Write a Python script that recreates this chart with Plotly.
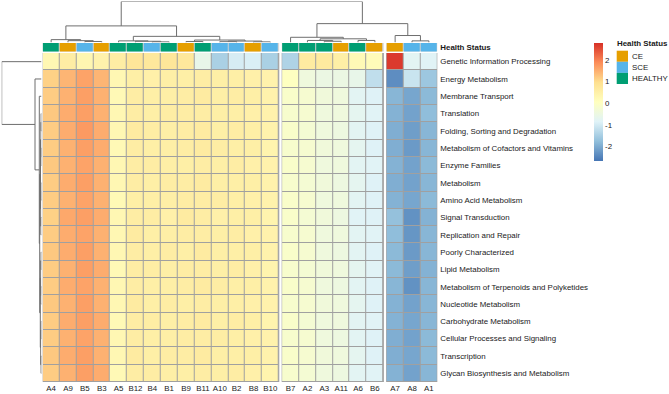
import plotly.graph_objects as go

W, H = 669, 394

rows = ["Genetic Information Processing", "Energy Metabolism", "Membrane Transport", "Translation",
        "Folding, Sorting and Degradation", "Metabolism of Cofactors and Vitamins", "Enzyme Families",
        "Metabolism", "Amino Acid Metabolism", "Signal Transduction", "Replication and Repair",
        "Poorly Characterized", "Lipid Metabolism", "Metabolism of Terpenoids and Polyketides",
        "Nucleotide Metabolism", "Carbohydrate Metabolism", "Cellular Processes and Signaling",
        "Transcription", "Glycan Biosynthesis and Metabolism"]

cols = ["A4", "A9", "B5", "B3", "A5", "B12", "B4", "B1", "B9", "B11", "A10", "B2", "B8", "B10",
        "B7", "A2", "A3", "A11", "A6", "B6",
        "A7", "A8", "A1"]
col_groups = [14, 6, 3]

status = ["HEALTHY", "CE", "SCE", "CE", "HEALTHY", "HEALTHY", "SCE", "HEALTHY", "CE", "HEALTHY", "SCE", "SCE", "CE", "SCE",
          "HEALTHY", "HEALTHY", "HEALTHY", "CE", "HEALTHY", "CE",
          "CE", "SCE", "SCE"]
status_levels = ["CE", "SCE", "HEALTHY"]
status_colors = ["#E69F00", "#56B4E9", "#009E73"]

values = [
    [0.30, 0.60, 0.35, 0.45, 0.60, 0.80, 0.75, 0.80, 0.75, -0.60, -1.45, -0.95, -0.90, -1.45, -1.40, 0.65, 0.70, 0.55, 0.25, 0.20, 2.70, -0.75, -0.80],
    [1.15, 1.45, 1.65, 1.45, 0.30, 0.55, 0.50, 0.55, 0.55, 0.60, 0.55, 0.55, 0.50, 0.45, 0.05, -0.40, -0.50, -0.50, -0.60, -1.20, -2.35, -1.10, -1.60],
    [1.20, 1.50, 1.70, 1.50, 0.25, 0.60, 0.55, 0.55, 0.60, 0.65, 0.55, 0.60, 0.55, 0.45, -0.10, -0.20, -0.35, -0.40, -0.75, -0.85, -1.85, -2.05, -1.80],
    [1.25, 1.55, 1.70, 1.50, 0.30, 0.60, 0.55, 0.60, 0.60, 0.60, 0.55, 0.55, 0.50, 0.45, -0.15, -0.20, -0.40, -0.40, -0.70, -0.80, -1.90, -2.10, -1.75],
    [1.20, 1.55, 1.75, 1.55, 0.30, 0.65, 0.60, 0.55, 0.60, 0.65, 0.55, 0.60, 0.55, 0.45, -0.10, -0.25, -0.40, -0.45, -0.75, -0.85, -1.95, -2.15, -1.85],
    [1.20, 1.50, 1.70, 1.55, 0.25, 0.60, 0.55, 0.55, 0.60, 0.65, 0.60, 0.55, 0.55, 0.40, -0.15, -0.20, -0.35, -0.40, -0.70, -0.85, -1.95, -2.20, -1.85],
    [1.25, 1.50, 1.65, 1.50, 0.30, 0.60, 0.60, 0.55, 0.55, 0.60, 0.55, 0.60, 0.50, 0.45, -0.10, -0.20, -0.40, -0.40, -0.75, -0.80, -1.90, -2.10, -1.80],
    [1.20, 1.55, 1.70, 1.50, 0.30, 0.60, 0.55, 0.60, 0.60, 0.65, 0.55, 0.55, 0.55, 0.45, -0.15, -0.25, -0.35, -0.45, -0.70, -0.85, -1.95, -2.10, -1.85],
    [1.20, 1.50, 1.65, 1.50, 0.25, 0.55, 0.55, 0.55, 0.60, 0.60, 0.60, 0.55, 0.50, 0.45, -0.10, -0.20, -0.40, -0.40, -0.75, -0.85, -1.90, -2.05, -1.80],
    [1.15, 1.60, 1.70, 1.55, 0.30, 0.60, 0.60, 0.50, 0.65, 0.60, 0.50, 0.55, 0.55, 0.40, -0.10, -0.25, -0.35, -0.45, -0.80, -0.85, -1.70, -2.30, -1.90],
    [1.20, 1.55, 1.65, 1.50, 0.30, 0.65, 0.55, 0.55, 0.60, 0.60, 0.55, 0.60, 0.50, 0.45, -0.15, -0.20, -0.40, -0.40, -0.75, -0.80, -1.75, -2.25, -1.85],
    [1.25, 1.55, 1.70, 1.50, 0.30, 0.60, 0.55, 0.60, 0.55, 0.65, 0.55, 0.55, 0.55, 0.45, -0.10, -0.20, -0.40, -0.45, -0.75, -0.85, -1.80, -2.20, -1.85],
    [1.20, 1.50, 1.70, 1.55, 0.25, 0.60, 0.60, 0.55, 0.60, 0.60, 0.55, 0.60, 0.50, 0.40, -0.15, -0.25, -0.35, -0.40, -0.70, -0.80, -1.80, -2.15, -1.90],
    [1.20, 1.55, 1.65, 1.50, 0.30, 0.60, 0.55, 0.55, 0.60, 0.65, 0.60, 0.55, 0.55, 0.45, -0.10, -0.20, -0.40, -0.45, -0.75, -0.85, -1.85, -2.30, -1.85],
    [1.25, 1.50, 1.70, 1.50, 0.30, 0.65, 0.55, 0.60, 0.55, 0.60, 0.55, 0.55, 0.50, 0.45, -0.15, -0.20, -0.35, -0.40, -0.70, -0.85, -1.90, -2.10, -1.85],
    [1.20, 1.55, 1.70, 1.55, 0.25, 0.60, 0.60, 0.55, 0.60, 0.65, 0.55, 0.60, 0.55, 0.40, -0.10, -0.25, -0.40, -0.40, -0.75, -0.80, -1.90, -2.05, -1.85],
    [1.20, 1.50, 1.65, 1.50, 0.30, 0.60, 0.55, 0.55, 0.60, 0.60, 0.60, 0.55, 0.50, 0.45, -0.15, -0.20, -0.40, -0.45, -0.75, -0.85, -1.95, -2.10, -1.80],
    [1.25, 1.55, 1.70, 1.50, 0.30, 0.65, 0.55, 0.60, 0.60, 0.65, 0.55, 0.55, 0.55, 0.45, -0.10, -0.20, -0.35, -0.40, -0.70, -0.85, -1.95, -2.05, -1.80],
    [1.20, 1.50, 1.70, 1.55, 0.25, 0.60, 0.60, 0.55, 0.55, 0.60, 0.55, 0.60, 0.50, 0.40, -0.15, -0.25, -0.40, -0.45, -0.75, -0.80, -1.90, -2.10, -1.85],
]

scale_min, scale_max = -2.65, 2.8
colorbar_ticks = [-2, -1, 0, 1, 2]
palette = ["#4575B4", "#91BFDB", "#E0F3F8", "#FFFFBF", "#FEE090", "#FC8D59", "#D73027"]

# column clustering tree: (height, left, right)
col_tree = (100,
            (40.5,
             (7, "A4", (4.5, "A9", (2.5, "B5", "B3"))),
             (15, (4, "A5", (3, "B12", (1.5, "B4", "B1"))),
              (6, (2.5, "B9", "B11"), (3.5, (2, "A10", "B2"), (1.5, "B8", "B10"))))),
            (46,
             (12.7, "B7", (9, (5, "A2", (3, "A3", "A11")), (5, "A6", "B6"))),
             (17, "A7", (4, "A8", "A1"))))

# row clustering tree
row_tree = (100, "Genetic Information Processing",
            (16.3, "Energy Metabolism",
             (5.5, "Membrane Transport",
              (4.5,
               (2.5,
                (1.5, (1, "Translation", "Folding, Sorting and Degradation"),
                 (1, "Metabolism of Cofactors and Vitamins", "Enzyme Families")),
                (2, (1, "Metabolism", "Amino Acid Metabolism"),
                 (1.5, "Signal Transduction", "Replication and Repair"))),
               (3,
                (2, (1, "Poorly Characterized", "Lipid Metabolism"),
                 (1.5, "Metabolism of Terpenoids and Polyketides", "Nucleotide Metabolism")),
                (2, (1, "Carbohydrate Metabolism", "Cellular Processes and Signaling"),
                 (1, "Transcription", "Glycan Biosynthesis and Metabolism")))))))

# ---------- layout geometry (pixels) ----------
def px(x):
    return x / W

def py(y):
    return 1 - y / H

hm_left, hm_right = 42.7, 437.3
hm_top, hm_bottom = 53.0, 382.0
ann_top, ann_bottom = 43.0, 51.5
dendro_top = 1.5
rowd_left, rowd_right = 1.7, 41.5
gap_units = 0.2
border_col = "#a0a0a0"
font_family = "Liberation Sans, Arial, sans-serif"
text_col = "#1a1a1a"
fsize = 7.9

# column positions with gaps between groups
col_pos = []
offset = 0.0
start = 0
group_spans = []
for g in col_groups:
    span = []
    for i in range(g):
        col_pos.append(start + i + offset)
        span.append(start + i + offset)
    group_spans.append((span[0], span[-1], start, start + g))
    start += g
    offset += gap_units
x_range = [-0.5, col_pos[-1] + 0.5]
pos_of_col = dict(zip(cols, col_pos))
pos_of_row = {r: i for i, r in enumerate(rows)}

colorscale = [[i / (len(palette) - 1), c] for i, c in enumerate(palette)]

fig = go.Figure()

# heatmap blocks
for gi, (x0, x1, a, b) in enumerate(group_spans):
    z = [row[a:b] for row in values]
    fig.add_trace(go.Heatmap(
        z=z, x=col_pos[a:b], y=list(range(len(rows))),
        colorscale=colorscale, zmin=scale_min, zmax=scale_max,
        xgap=1, ygap=1, showscale=(gi == 0), hoverinfo="skip",
        xaxis="x", yaxis="y",
        colorbar=dict(x=px(594), xanchor="left", xpad=0, ypad=0,
                      y=py(42.7), yanchor="top", len=117.5, lenmode="pixels",
                      thickness=9, thicknessmode="pixels", outlinewidth=0,
                      tickvals=colorbar_ticks, ticktext=[str(t) for t in colorbar_ticks],
                      ticks="", tickfont=dict(size=fsize, color=text_col, family=font_family)),
    ))
    fig.add_shape(type="rect", xref="x", yref="y", x0=x0 - 0.5, x1=x1 + 0.5,
                  y0=-0.5, y1=len(rows) - 0.5, fillcolor=border_col,
                  line=dict(color=border_col, width=1), layer="below")
    # annotation bar block
    codes = [status_levels.index(s) for s in status[a:b]]
    n = len(status_levels)
    ann_scale = []
    for k, c in enumerate(status_colors):
        ann_scale.append([k / n, c])
        ann_scale.append([(k + 1) / n, c])
    fig.add_trace(go.Heatmap(
        z=[codes], x=col_pos[a:b], y=[0], colorscale=ann_scale,
        zmin=-0.5, zmax=n - 0.5, showscale=False, xgap=1, hoverinfo="skip",
        xaxis="x", yaxis="y2"))
    fig.add_shape(type="rect", xref="x", yref="y2", x0=x0 - 0.5, x1=x1 + 0.5,
                  y0=-0.5, y1=0.5, fillcolor="#d0d0d0",
                  line=dict(color="#d0d0d0", width=0.5), layer="below")


def walk(node, pos, xs, ys):
    if isinstance(node, str):
        return pos[node], 0.0
    h, left, right = node
    pl, hl = walk(left, pos, xs, ys)
    pr, hr = walk(right, pos, xs, ys)
    xs += [pl, pl, pr, pr, None]
    ys += [hl, h, h, hr, None]
    return (pl + pr) / 2, h

dx, dy = [], []
walk(col_tree, pos_of_col, dx, dy)
fig.add_trace(go.Scatter(x=dx, y=dy, mode="lines", xaxis="x", yaxis="y3",
                         line=dict(color="#6e6e6e", width=1), hoverinfo="skip", showlegend=False))

rp, rh = [], []
walk(row_tree, pos_of_row, rp, rh)
fig.add_trace(go.Scatter(x=rh, y=rp, mode="lines", xaxis="x2", yaxis="y",
                         line=dict(color="#6e6e6e", width=1), hoverinfo="skip", showlegend=False))

tickfont = dict(size=fsize, color=text_col, family=font_family)
fig.update_layout(
    width=W, height=H, margin=dict(l=0, r=0, t=0, b=0),
    paper_bgcolor="white", plot_bgcolor="white", showlegend=False,
    font=dict(family=font_family, size=fsize, color=text_col),
    xaxis=dict(domain=[px(hm_left), px(hm_right)], range=x_range, anchor="y",
               tickvals=col_pos, ticktext=cols, ticks="", tickangle=0, showgrid=False,
               zeroline=False, showline=False, tickfont=tickfont, ticklabelstandoff=0,
               fixedrange=True),
    yaxis=dict(domain=[py(hm_bottom), py(hm_top)], range=[len(rows) - 0.5, -0.5], anchor="x",
               side="right", tickvals=list(range(len(rows))), ticktext=rows, ticks="",
               showgrid=False, zeroline=False, showline=False, tickfont=tickfont,
               ticklabelstandoff=2),
    yaxis2=dict(domain=[py(ann_bottom), py(ann_top)], range=[-0.5, 0.5], anchor="x",
                side="right", tickvals=[0], ticktext=["<b>Health Status</b>"], ticks="",
                showgrid=False, zeroline=False, showline=False, tickfont=tickfont,
                ticklabelstandoff=2),
    yaxis3=dict(domain=[py(ann_top - 0.5), py(dendro_top)], range=[0, 100], anchor="x",
                visible=False),
    xaxis2=dict(domain=[px(rowd_left), px(rowd_right)], range=[100, 0], anchor="y",
                visible=False),
)

# legend for annotation
leg_x0, leg_y0, sw_w, sw_h = 616.7, 50.7, 11.3, 11.1
fig.add_annotation(x=px(leg_x0 - 0.5), y=py(leg_y0 - 0.5), xref="paper", yref="paper",
                   text="<b>Health Status</b>", showarrow=False, xanchor="left", yanchor="bottom",
                   xshift=-1, font=dict(size=fsize, color=text_col, family=font_family))
for i, (lab, c) in enumerate(zip(status_levels, status_colors)):
    fig.add_shape(type="rect", xref="paper", yref="paper",
                  x0=px(leg_x0), x1=px(leg_x0 + sw_w),
                  y0=py(leg_y0 + (i + 1) * sw_h), y1=py(leg_y0 + i * sw_h),
                  fillcolor=c, line=dict(width=0))
    fig.add_annotation(x=px(leg_x0 + sw_w + 2), y=py(leg_y0 + (i + 0.5) * sw_h),
                       xref="paper", yref="paper", text=lab, showarrow=False,
                       xanchor="left", yanchor="middle",
                       font=dict(size=fsize, color=text_col, family=font_family))

fig.write_html("out.html", config={"displayModeBar": False},
               post_script="document.body.style.margin='0';document.body.style.padding='0';")
